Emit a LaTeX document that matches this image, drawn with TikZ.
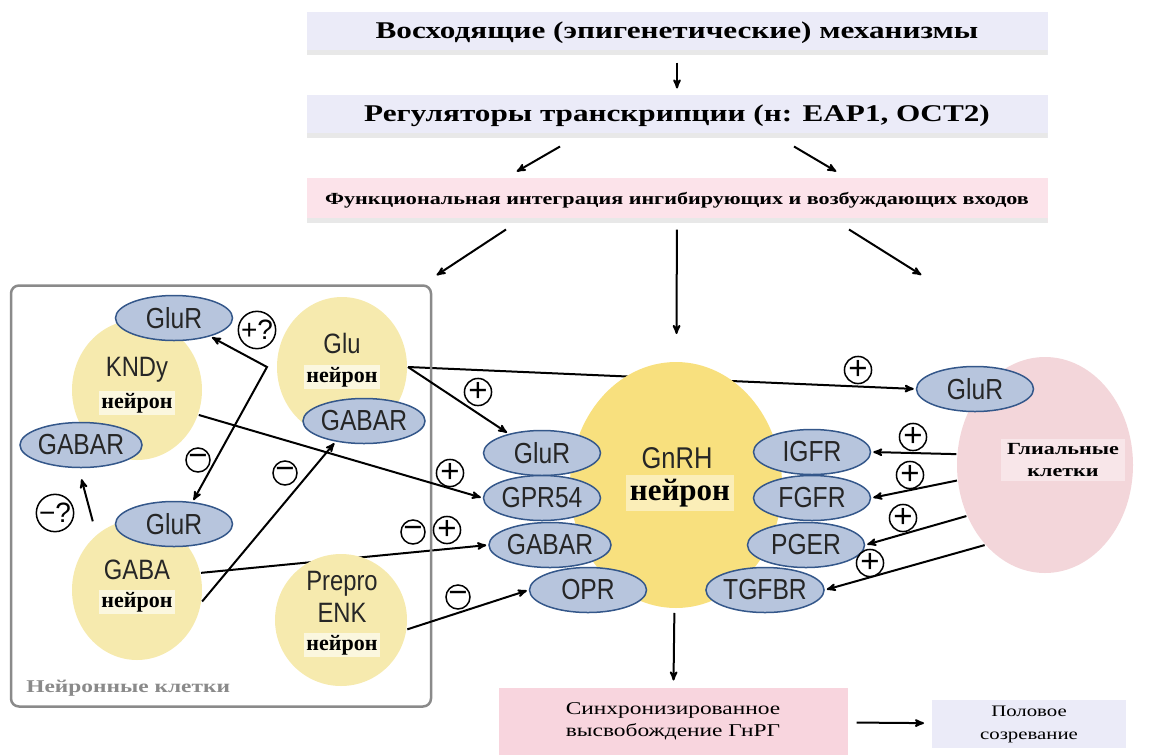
\documentclass[tikz,border=0pt]{standalone}
\usepackage{fontspec}
\setmainfont{Liberation Serif}
\newfontfamily\hdfont{Liberation Serif}[FakeStretch=1.3]
\newfontfamily\rcpfont{Liberation Sans}[FakeStretch=0.85]
\newfontfamily\signfont{Liberation Sans}
\usetikzlibrary{arrows,shapes.geometric,backgrounds}

\definecolor{boxlav}{HTML}{EBEBF8}
\definecolor{boxpink}{HTML}{FCE3EA}
\definecolor{syncpink}{HTML}{F8D5DE}
\definecolor{neuyel}{HTML}{F6EAAE}
\definecolor{gnrhyel}{HTML}{F8E07E}
\definecolor{rcpfill}{HTML}{B7C5DD}
\definecolor{rcpline}{HTML}{34578A}
\definecolor{gliapink}{HTML}{F3D6DA}
\definecolor{cellgray}{HTML}{8A8A8A}

\tikzset{
every picture/.style={
line width=2pt
},
headbox/.style={rectangle, fill=boxlav, minimum width=741, minimum height=43,
  font=\hdfont\bfseries\fontsize{24}{26}\selectfont,
  path picture={\fill[black!9] (path picture bounding box.south west) rectangle ([yshift=5pt]path picture bounding box.south east);}},
neuron/.style={ellipse, fill=neuyel, minimum width=130, minimum height=140},
rcp/.style={ellipse, draw=rcpline, line width=1.5pt, fill=rcpfill, minimum width=117, minimum height=45,
  inner sep=0pt, font=\rcpfont\fontsize{29}{29}\selectfont, text=black!85},
nrnname/.style={font=\rcpfont\fontsize{28}{28}\selectfont, text=black!85, inner sep=0pt},
nrnlbl/.style={fill=white!60!neuyel, inner sep=2pt, font=\bfseries\fontsize{22}{22}\selectfont},
sign/.style={circle, draw, line width=1.5pt, inner sep=0pt, minimum size=24pt,
  font=\signfont\fontsize{33}{33}\selectfont},
qsign/.style={sign, minimum size=37pt, font=\signfont\fontsize{28}{28}\selectfont}
}

\begin{document}
\begin{tikzpicture}[x=1pt, y=-1pt, >=stealth', shorten >=2pt]
\useasboundingbox (0,0) rectangle (1150,755);

% top
\node[headbox] (epi) at (677,33) {Восходящие (эпигенетические) механизмы};
\node[headbox] (reg) at (677,116) {Регуляторы транскрипции (н: EAP1, OCT2)};
\node[headbox, fill=boxpink, minimum height=45, font=\hdfont\bfseries\fontsize{17}{19}\selectfont] (integ) at (677,200) {Функциональная интеграция ингибирующих и возбуждающих входов};

% neuron cells
\node[draw=cellgray, line width=2.5pt, rounded corners=8pt, minimum width=420, minimum height=421] (cells) at (221,496) {};
\node[anchor=west, text=cellgray, font=\hdfont\bfseries\fontsize{18}{18}\selectfont] (cellslbl) at (22,688) {Нейронные клетки};

\node[neuron] (kndy) at (137,390) {};
\node[nrnname] (kndyname) at (137,370) {KNDy};
\node[nrnlbl] (kndylbl) at (137,403) {нейрон};
\node[rcp] (kndyglur) at (174,318) {GluR};
\node[rcp] (kndygabar) at (81,445) {GABAR};

\node[neuron] (glu) at (342,367) {};
\node[nrnname] (gluname) at (342,343) {Glu};
\node[nrnlbl] (glulbl) at (342,377) {нейрон};
\node[rcp] (glugabar) at (364,421) {GABAR};

\node[neuron] (gaba) at (137,590) {};
\node[nrnname] (gabaname) at (137,570) {GABA};
\node[nrnlbl] (gabalbl) at (137,602) {нейрон};
\node[rcp] (gabaglur) at (174,524) {GluR};

\node[neuron, minimum width=132, minimum height=132] (enk) at (341,620) {};
\node[nrnname, align=center] (enkname) at (342,597) {Prepro\\[4pt]ENK};
\node[nrnlbl] (enklbl) at (342,645) {нейрон};

% GnRH
\node[ellipse, fill=gnrhyel, minimum width=212, minimum height=246] (gnrh) at (676,485) {};
\node[nrnname, font=\rcpfont\fontsize{30}{30}\selectfont] (gnrhname) at (677,458) {GnRH};
\node[nrnlbl, fill=white!45!gnrhyel, inner sep=4pt, font=\bfseries\fontsize{31}{31}\selectfont] (gnrhlbl) at (680,493) {нейрон};
\node[rcp] (gglur) at (542,453) {GluR};
\node[rcp] (gpr) at (542,498) {GPR54};
\node[rcp] (ggabar) at (550,545) {GABAR};
\node[rcp] (opr) at (588,590) {OPR};
\node[rcp] (igfr) at (812,452) {IGFR};
\node[rcp] (fgfr) at (812,498) {FGFR};
\node[rcp] (pger) at (806,545) {PGER};
\node[rcp] (tgfbr) at (765,590) {TGFBR};

% glia
\node[ellipse, fill=gliapink, minimum width=176, minimum height=216] (glia) at (1045,465) {};
\node[fill=white!40!gliapink, align=center, inner xsep=6pt, inner ysep=4pt, font=\hdfont\bfseries\fontsize{17}{22}\selectfont] (glialbl) at (1063,460) {Глиальные\\клетки};
\node[rcp] (gliaglur) at (975,389) {GluR};

% bottom
\node[rectangle, fill=syncpink, minimum width=349, minimum height=67, align=center, font=\hdfont\fontsize{18}{22}\selectfont] (sync) at (673,721) {Синхронизированное\\высвобождение ГнРГ};
\node[rectangle, fill=boxlav, minimum width=194, minimum height=48, align=center, font=\hdfont\fontsize{16}{23}\selectfont] (puberty) at (1029,724) {Половое\\созревание};

% signs
\node[qsign] (s1) at (257,330) {+?};
\node[sign] (s2) at (198,460) {−};
\node[sign] (s3) at (285,473) {−};
\node[qsign] (s4) at (55,513) {−?};
\node[sign] (s5) at (478,392) {+};
\node[sign] (s6) at (450,473) {+};
\node[sign] (s7) at (413,532) {−};
\node[sign] (s8) at (447,530) {+};
\node[sign] (s9) at (458,597) {−};
\node[sign] (s10) at (858,370) {+};
\node[sign] (s11) at (913,437) {+};
\node[sign] (s12) at (910,475) {+};
\node[sign] (s13) at (903,518) {+};
\node[sign] (s14) at (870,563) {+};

\coordinate (fork) at (267,367);

% connectors
\draw[->, shorten <=7pt, shorten >=5pt] (epi) -- (reg);
\draw[->] ([xshift=-117pt, yshift=-8pt]reg.south) -- ([xshift=-162pt, yshift=4pt]integ.north);
\draw[->] ([xshift=117pt, yshift=-8pt]reg.south) -- ([xshift=161pt, yshift=4pt]integ.north);
\draw[->] ([xshift=-171pt, yshift=-6pt]integ.south) -- ([xshift=214pt, yshift=8pt]cells.north);
\draw[->, shorten <=6pt, shorten >=27pt] (integ) -- (gnrh);
\draw[->] ([xshift=172pt, yshift=-6pt]integ.south) -- ([xshift=-122pt, yshift=80pt]glia.north);
\draw[->, shorten <=4pt, shorten >=6pt] (gnrh) -- (sync);
\draw[->, shorten <=8pt, shorten >=7pt] (sync) -- (puberty);

\draw[<->, shorten <=2pt] (kndyglur.-27) -- (fork) -- (gabaglur.50);
\draw[->] ([yshift=16pt]gaba.130) -- ([yshift=-9pt]kndygabar.south);
\draw[->] (kndy.-22) -- (gpr.west);
\draw[->] (gaba.-10) -- (glugabar.216);
\draw[->] (enk.-8) -- (opr.west);
\draw[->] (glu.east) -- (gglur.150);
\draw[->] (glia.173) -- (igfr.east);
\draw[->] (glia.190) -- (fgfr.east);
\draw[->] (glia.213) -- (pger.east);
\draw[->] (glia.233) -- (tgfbr.east);
\begin{pgfonlayer}{background}
\draw[->, line width=2pt] (glu.east) -- (gliaglur.west);
\draw[->, line width=2pt] (gaba.15) -- (ggabar.west);
\end{pgfonlayer}
\end{tikzpicture}
\end{document}
